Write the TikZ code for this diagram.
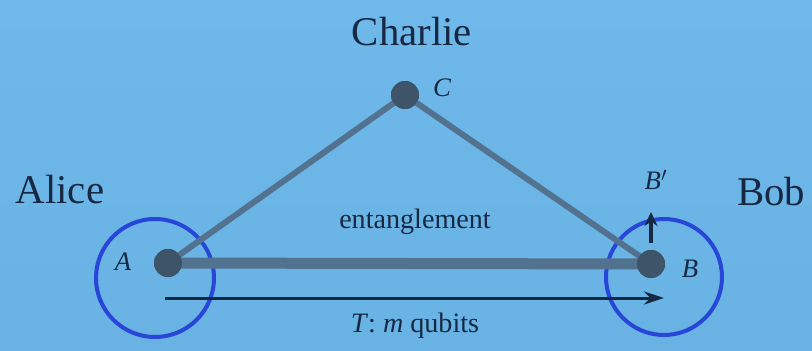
\documentclass[tikz,border=0pt]{standalone}
\usepackage{fontspec}
\setmainfont{Liberation Serif}
\usetikzlibrary{arrows.meta}
\definecolor{bgtop}{RGB}{110,184,234}
\definecolor{bgbot}{RGB}{104,178,228}
\definecolor{ink}{RGB}{22,40,66}
\definecolor{linec}{RGB}{82,114,144}
\definecolor{dotc}{RGB}{62,84,104}
\definecolor{ringc}{RGB}{40,70,215}
\begin{document}
\begin{tikzpicture}[x=0.025cm,y=-0.025cm,
  party/.style={text=ink,font=\fontsize{29}{32}\selectfont},
  small/.style={text=ink,font=\fontsize{20}{22}\selectfont},
  lbl/.style={text=ink,font=\itshape\fontsize{19}{21}\selectfont},
  dot/.style={circle,fill=dotc,minimum size=28*0.025cm,inner sep=0pt},
  link/.style={draw=linec,line width=6*0.025cm},
  ring/.style={draw=ringc,line width=4*0.025cm}]
\shade[top color=bgtop,bottom color=bgbot] (0,0) rectangle (812,350);
\useasboundingbox (0,0) rectangle (812,350);
% rings
\draw[ring] (155,278) circle (59);
\draw[ring] (664,277) circle (58);
% dots
\node[dot] (A) at (168,263) {};
\node[dot] (C) at (405,95) {};
\node[dot] (B) at (651,264) {};
% links
\draw[link] (A.center) -- (C.center) -- (B.center);
\draw[draw=linec,line width=11*0.025cm] (A.center) -- (B.center);
\node[dot] at (A) {};
\node[dot] at (C) {};
\node[dot] at (B) {};
% arrows
\coordinate (t0) at (165,298);
\coordinate (t1) at (664,298);
\draw[ink,line width=3*0.025cm,-{Stealth[length=20*0.025cm,width=13*0.025cm]}] (t0) -- (t1);
\coordinate (bp) at (651,212);
\draw[ink,line width=3.5*0.025cm,-{Stealth[length=14*0.025cm,width=13*0.025cm]}] (651,243) -- (bp);
% labels
\node[party] (charlie) at (412,32) {Charlie};
\node[party] (alice) at (60,190) {Alice};
\node[party] (bob) at (771,192) {Bob};
\node[small] (ent) at (415,222) {entanglement};
\node[small] (tq) at (415,326) {\textit{T}: \textit{m} qubits};
\node[lbl] (la) at (123,262) {A};
\node[lbl] (lb) at (690,269) {B};
\node[lbl] (lc) at (442,88) {C};
\node[lbl] (lbp) at (656,180) {B$'$};
\end{tikzpicture}
\end{document}
